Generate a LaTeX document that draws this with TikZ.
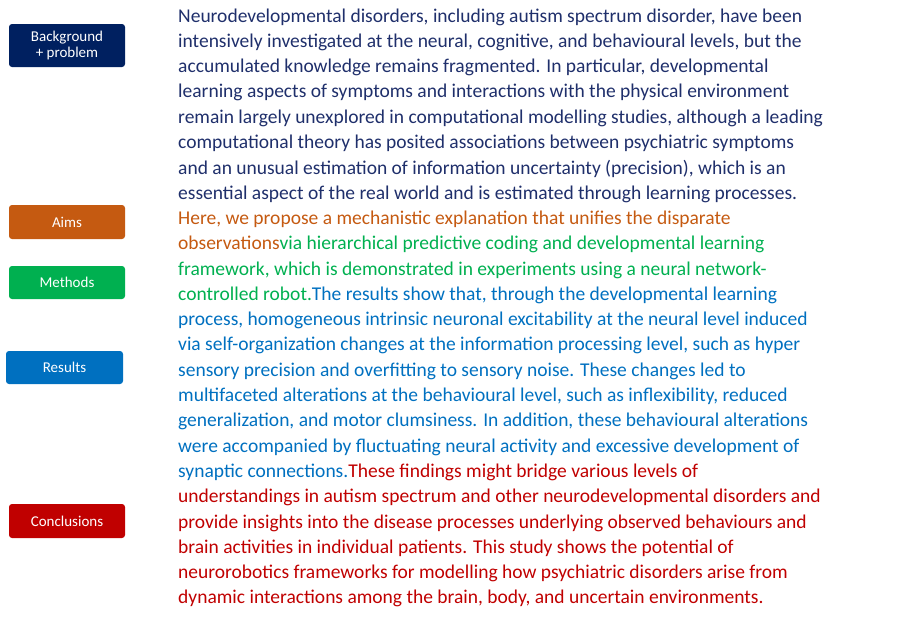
\documentclass[tikz,border=0pt]{standalone}
\usepackage{fontspec}
\setmainfont{Carlito}
\definecolor{navy}{HTML}{1F2F6B}
\definecolor{boxnavy}{HTML}{002060}
\definecolor{aorange}{HTML}{C55A11}
\definecolor{mgreen}{HTML}{00B050}
\definecolor{rblue}{HTML}{0070C0}
\definecolor{cred}{HTML}{C00000}
\begin{document}
\begin{tikzpicture}[x=1pt,y=-1pt,
  ln/.style={anchor=west,inner sep=0pt,font=\fontsize{19.5}{23}\selectfont},
  lab/.style={rounded corners=3pt,text=white,font=\fontsize{15}{17}\selectfont,align=center}]
\useasboundingbox (0,0) rectangle (911,621);
\foreach \c/\xa/\ya/\xb/\yb/\t/\n in {boxnavy/9/24/125/67/{Background\\+ problem}/b1, aorange/9/205/125/239/Aims/b2, mgreen/9/266/125/299/Methods/b3, rblue/6/351/123/384/Results/b4, cred/9/504/125/538/Conclusions/b5}{
  \fill[\c,rounded corners=3pt] (\xa,\ya) rectangle (\xb,\yb);
  \node[lab] (\n) at ({(\xa+\xb)/2},{(\ya+\yb)/2}) {\t};
}
\def\L#1#2{\node[ln] (l#1) at (178,{17+25.3*(#1-1)}) {#2};}
\L{1}{\color{navy}Neurodevelopmental disorders, including autism spectrum disorder, have been}
\L{2}{\color{navy}intensively investigated at the neural, cognitive, and behavioural levels, but the}
\L{3}{\color{navy}accumulated knowledge remains fragmented. In particular, developmental}
\L{4}{\color{navy}learning aspects of symptoms and interactions with the physical environment}
\L{5}{\color{navy}remain largely unexplored in computational modelling studies, although a leading}
\L{6}{\color{navy}computational theory has posited associations between psychiatric symptoms}
\L{7}{\color{navy}and an unusual estimation of information uncertainty (precision), which is an}
\L{8}{\color{navy}essential aspect of the real world and is estimated through learning processes.}
\L{9}{\color{aorange}Here, we propose a mechanistic explanation that unifies the disparate}
\L{10}{\color{aorange}observations\color{mgreen} via hierarchical predictive coding and developmental learning}
\L{11}{\color{mgreen}framework, which is demonstrated in experiments using a neural network-}
\L{12}{\color{mgreen}controlled robot.\color{rblue} The results show that, through the developmental learning}
\L{13}{\color{rblue}process, homogeneous intrinsic neuronal excitability at the neural level induced}
\L{14}{\color{rblue}via self-organization changes at the information processing level, such as hyper}
\L{15}{\color{rblue}sensory precision and overfitting to sensory noise. These changes led to}
\L{16}{\color{rblue}multifaceted alterations at the behavioural level, such as inflexibility, reduced}
\L{17}{\color{rblue}generalization, and motor clumsiness. In addition, these behavioural alterations}
\L{18}{\color{rblue}were accompanied by fluctuating neural activity and excessive development of}
\L{19}{\color{rblue}synaptic connections.\color{cred} These findings might bridge various levels of}
\L{20}{\color{cred}understandings in autism spectrum and other neurodevelopmental disorders and}
\L{21}{\color{cred}provide insights into the disease processes underlying observed behaviours and}
\L{22}{\color{cred}brain activities in individual patients. This study shows the potential of}
\L{23}{\color{cred}neurorobotics frameworks for modelling how psychiatric disorders arise from}
\L{24}{\color{cred}dynamic interactions among the brain, body, and uncertain environments.}
\end{tikzpicture}
\end{document}
